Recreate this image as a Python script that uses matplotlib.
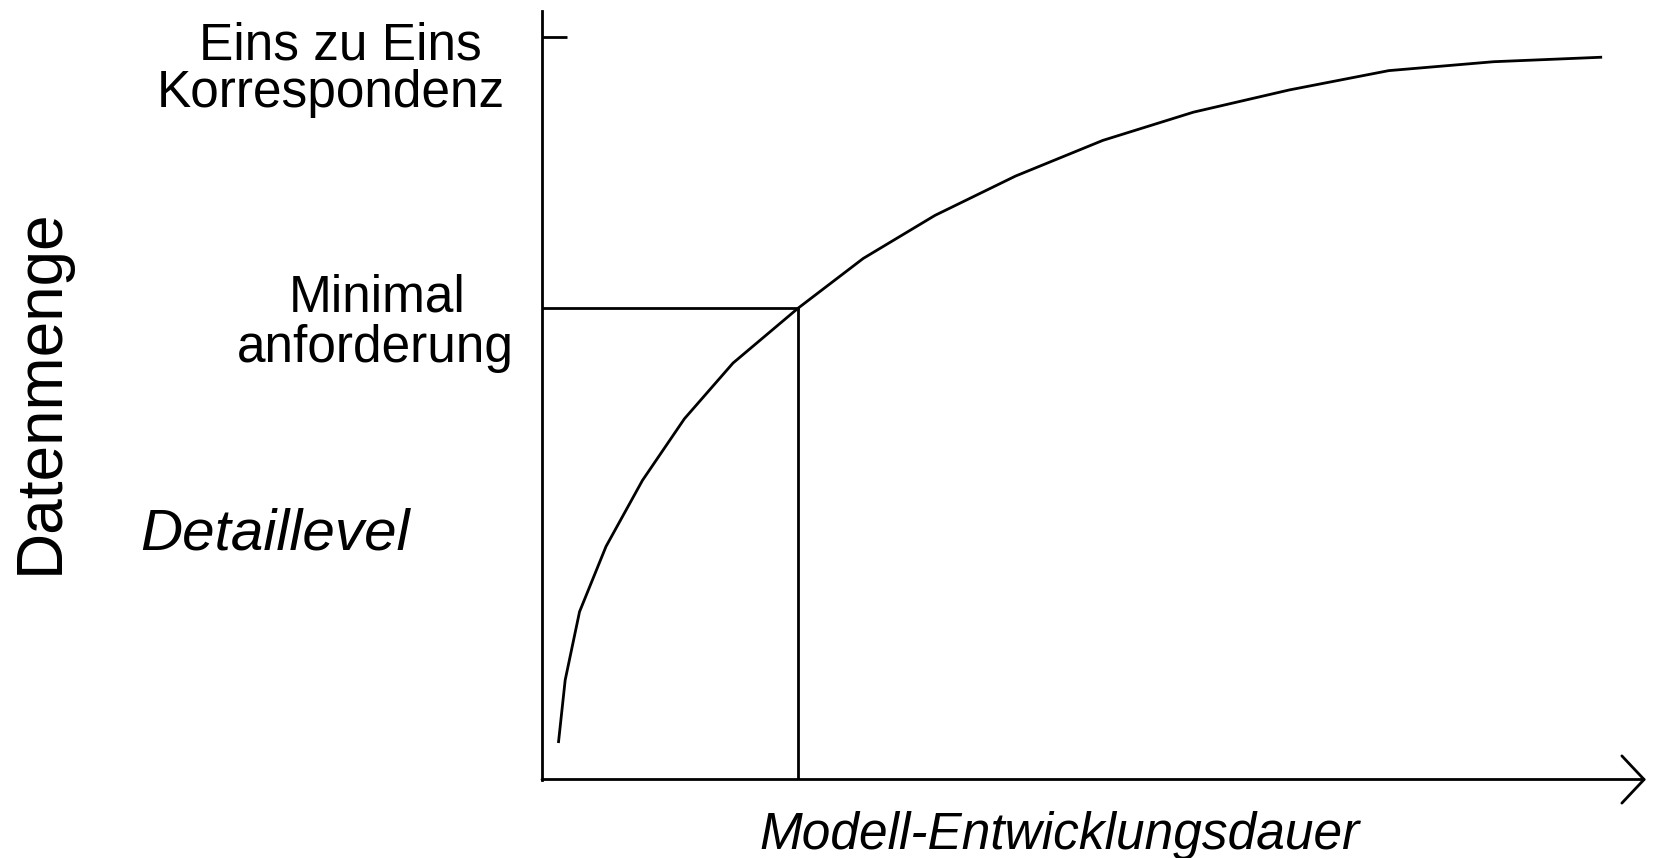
import matplotlib
matplotlib.use("Agg")
from matplotlib import pyplot as plt

plt.rcParams['font.family'] = ['Liberation Sans', 'DejaVu Sans']

# curve (x: 0 = y-axis, 100 = arrow tip; y: 0 = x-axis, 100 = top tick)
dauer = [1.5, 2.1, 3.4, 5.8, 9.1, 12.9, 17.3, 23.2, 29.1, 35.6, 42.9, 50.8, 59.0, 67.7, 76.7, 86.2, 95.9]
datenmenge = [5.1, 13.4, 22.6, 31.4, 40.3, 48.6, 56.1, 63.5, 70.2, 76.0, 81.3, 86.1, 89.9, 92.9, 95.5, 96.7, 97.3]

min_x, min_y = 23.2, 63.5   # Minimalanforderung
top_level = 100

W, H = 1654, 858
fig = plt.figure(figsize=(W / 100, H / 100), dpi=100)

# axes placed in pixels: y-axis at x=542, x-axis at y=779.5, tip at 1646, top at 10.5
ax = fig.add_axes([542 / W, 1 - 779.5 / H, 1104 / W, 769 / H])
ax.set_xlim(0, 100)
ax.set_ylim(0, 103.6)
ax.patch.set_visible(False)

for s in ["top", "right", "bottom"]:
    ax.spines[s].set_visible(False)
ax.spines["left"].set_linewidth(2)

ax.set_xticks([])
ax.set_yticks([top_level])
ax.set_yticklabels([""])
ax.tick_params(axis='y', direction='in', length=18, width=2)

ax.plot(dauer, datenmenge, color='black', lw=2, clip_on=False)
ax.plot([0, min_x], [min_y, min_y], color='black', lw=2)
ax.plot([min_x, min_x], [0, min_y], color='black', lw=2)

# x-axis with open arrow head
ax.annotate("", xy=(100, 0), xytext=(0, 0),
            arrowprops=dict(arrowstyle="->,head_length=16,head_width=17",
                            mutation_scale=1, lw=2, color='black',
                            shrinkA=0, shrinkB=0),
            annotation_clip=False)


def ftext(x, y, s, **kw):
    fig.text(x / W, 1 - y / H, s, **kw)


ftext(340, 60, "Eins zu Eins", fontsize=37, ha='center', va='baseline')
ftext(331, 107, "Korrespondenz", fontsize=37, ha='center', va='baseline')
ftext(377, 312, "Minimal", fontsize=37, ha='center', va='baseline')
ftext(375, 362, "anforderung", fontsize=37, ha='center', va='baseline')
ftext(58, 391, "Datenmenge", fontsize=46, ha='center', va='baseline',
      rotation=90, rotation_mode='anchor')
ftext(140, 549, "Detaillevel", fontsize=42, style='italic', ha='left', va='baseline')
ftext(1060, 849, "Modell-Entwicklungsdauer", fontsize=37, style='italic',
      ha='center', va='baseline')

fig.savefig("out.png", dpi=100)
